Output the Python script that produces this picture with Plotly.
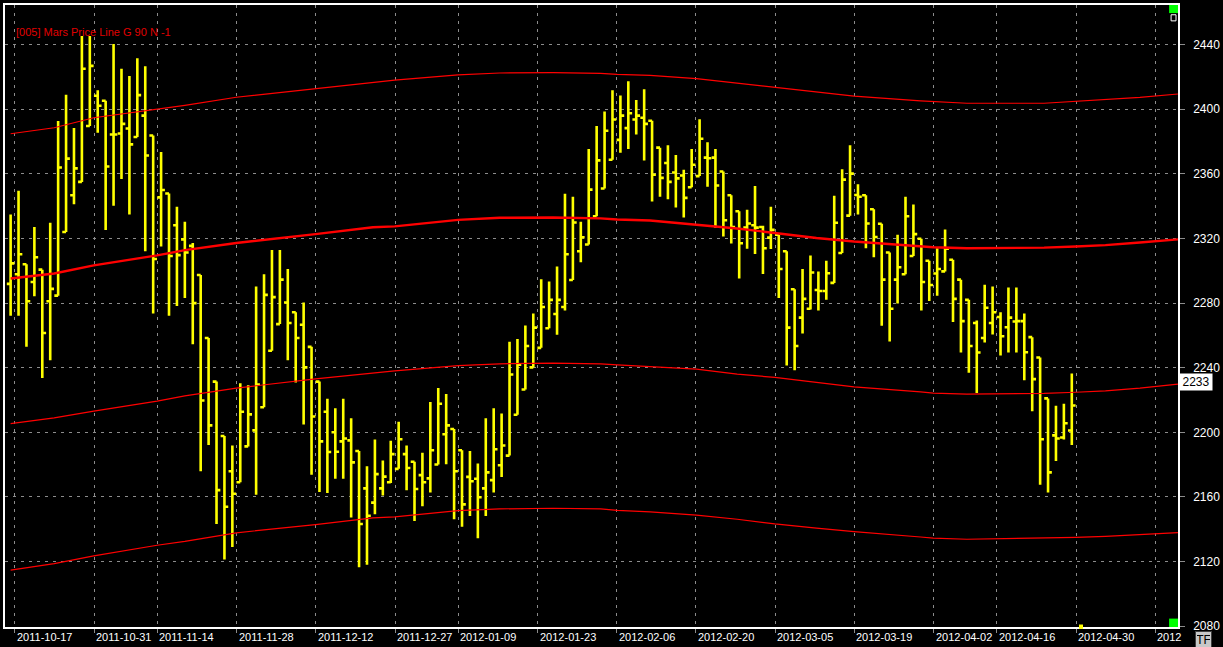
import plotly.graph_objects as go

# daily bars (index 0 = first bar on the left)
opens = [2291.9, 2297.8, 2304.0, 2293.0, 2300.7, 2281.1, 2284.6, 2324.0, 2346.7, 2355.0,
         2389.6, 2408.3, 2405.2, 2384.3, 2385.0, 2388.1, 2382.8, 2396.0, 2383.7, 2345.4,
         2347.8, 2328.2, 2319.4, 2315.4, 2297.4, 2258.4, 2231.4, 2197.7, 2175.9, 2169.1,
         2191.3, 2201.2, 2215.5, 2250.5, 2267.0, 2280.4, 2274.3, 2266.6, 2252.9, 2231.4,
         2212.7, 2200.0, 2194.4, 2195.0, 2188.4, 2165.3, 2156.5, 2165.3, 2169.1, 2177.4,
         2186.5, 2181.8, 2173.5, 2171.5, 2180.1, 2198.8, 2202.1, 2188.9, 2172.4, 2171.3,
         2165.3, 2170.4, 2179.6, 2185.6, 2210.9, 2226.5, 2240.2, 2252.3, 2264.4, 2273.2,
         2277.6, 2294.3, 2312.1, 2316.3, 2333.7, 2350.9, 2368.7, 2381.0, 2388.3, 2393.6,
         2394.7, 2392.9, 2376.2, 2366.7, 2360.8, 2359.0, 2351.7, 2358.6, 2370.0, 2370.0,
         2361.4, 2346.7, 2336.8, 2326.7, 2328.2, 2327.1, 2320.5, 2322.3, 2312.1, 2288.6,
         2271.0, 2276.5, 2288.1, 2287.5, 2292.5, 2311.0, 2334.1, 2346.9, 2346.7, 2338.1,
         2329.1, 2311.3, 2294.5, 2297.8, 2309.1, 2319.8, 2306.2, 2298.3, 2299.6, 2306.8,
         2294.5, 2282.0, 2267.7, 2258.4, 2267.7, 2271.4, 2265.0, 2268.6, 2268.8, 2258.9,
         2246.3, 2221.0, 2198.1, 2196.8, 2201.1]
highs = [2334.8, 2349.5, 2304.0, 2327.1, 2300.7, 2329.7, 2392.7, 2409.0, 2388.3, 2445.3,
         2445.3, 2411.8, 2405.2, 2440.4, 2425.0, 2420.6, 2431.6, 2426.6, 2383.7, 2373.5,
         2347.8, 2339.6, 2330.4, 2317.2, 2297.4, 2258.4, 2231.4, 2197.7, 2191.8, 2230.3,
         2229.2, 2290.3, 2297.8, 2312.8, 2312.8, 2301.1, 2274.3, 2280.4, 2252.9, 2231.4,
         2220.8, 2214.9, 2220.8, 2208.7, 2188.4, 2179.0, 2195.5, 2182.5, 2194.8, 2206.5,
         2191.8, 2181.8, 2187.3, 2218.8, 2227.4, 2223.7, 2202.1, 2188.9, 2188.4, 2180.7,
         2208.7, 2214.9, 2211.6, 2256.0, 2257.8, 2266.1, 2273.6, 2294.7, 2293.4, 2302.7,
         2347.6, 2345.8, 2330.4, 2375.3, 2389.6, 2398.6, 2411.8, 2408.5, 2417.3, 2405.7,
         2412.3, 2392.9, 2376.2, 2377.7, 2371.6, 2362.5, 2375.3, 2393.8, 2379.5, 2375.3,
         2361.4, 2346.7, 2336.8, 2337.7, 2352.4, 2327.8, 2339.6, 2322.3, 2312.1, 2288.6,
         2301.1, 2309.5, 2299.6, 2306.2, 2346.5, 2362.8, 2377.7, 2353.5, 2346.7, 2338.1,
         2329.1, 2311.3, 2322.3, 2345.8, 2341.0, 2319.8, 2306.2, 2313.9, 2325.6, 2306.8,
         2294.5, 2282.0, 2269.2, 2291.4, 2290.3, 2274.3, 2289.7, 2289.7, 2273.6, 2258.9,
         2246.3, 2221.0, 2216.4, 2217.7, 2236.4]
lows = [2272.1, 2272.1, 2252.9, 2284.2, 2233.6, 2244.6, 2284.6, 2324.0, 2341.2, 2355.0,
        2389.6, 2385.4, 2325.3, 2340.3, 2356.8, 2334.8, 2382.8, 2312.1, 2273.6, 2315.0,
        2272.1, 2278.2, 2283.1, 2254.5, 2175.9, 2192.2, 2143.3, 2121.3, 2129.0, 2169.1,
        2191.3, 2161.4, 2215.5, 2250.5, 2267.0, 2244.6, 2230.9, 2204.9, 2173.7, 2163.1,
        2162.5, 2171.3, 2171.3, 2147.3, 2116.5, 2118.0, 2149.3, 2160.9, 2168.6, 2177.4,
        2164.2, 2145.1, 2154.3, 2162.7, 2180.1, 2180.3, 2146.2, 2141.6, 2148.2, 2134.5,
        2148.2, 2162.7, 2172.4, 2185.6, 2210.9, 2226.5, 2240.2, 2252.3, 2264.4, 2260.4,
        2275.4, 2294.3, 2305.3, 2316.3, 2333.7, 2350.9, 2368.7, 2373.1, 2375.3, 2384.3,
        2368.3, 2342.9, 2345.8, 2344.3, 2339.2, 2333.0, 2351.7, 2358.6, 2352.0, 2326.7,
        2321.2, 2316.8, 2295.2, 2313.7, 2310.4, 2298.0, 2313.5, 2283.1, 2241.3, 2238.4,
        2261.1, 2276.0, 2275.4, 2282.0, 2292.5, 2311.0, 2334.1, 2334.8, 2313.9, 2308.4,
        2265.9, 2256.2, 2279.8, 2297.8, 2309.1, 2275.4, 2281.3, 2284.6, 2299.6, 2268.3,
        2249.4, 2236.9, 2224.3, 2255.6, 2260.6, 2247.6, 2249.4, 2249.4, 2232.2, 2213.1,
        2167.5, 2162.7, 2182.3, 2195.5, 2192.2]
closes = [2304.6, 2310.2, 2281.1, 2308.4, 2261.5, 2288.8, 2363.9, 2369.4, 2363.4, 2425.0,
          2426.8, 2402.1, 2364.5, 2384.3, 2390.9, 2378.2, 2408.7, 2371.3, 2307.3, 2350.0,
          2309.1, 2309.7, 2311.3, 2280.0, 2219.7, 2204.3, 2164.2, 2153.9, 2162.0, 2212.7,
          2211.1, 2229.6, 2285.1, 2283.7, 2294.5, 2267.7, 2258.4, 2240.2, 2209.8, 2194.4,
          2187.8, 2188.0, 2196.2, 2181.4, 2143.3, 2148.4, 2174.1, 2172.6, 2186.5, 2195.7,
          2177.9, 2164.9, 2169.1, 2188.9, 2217.7, 2204.3, 2175.9, 2155.4, 2169.7, 2159.8,
          2175.2, 2189.5, 2191.8, 2235.8, 2241.9, 2253.4, 2264.8, 2277.6, 2282.0, 2282.0,
          2310.2, 2329.9, 2320.7, 2350.2, 2368.3, 2386.7, 2393.6, 2396.0, 2397.5, 2396.0,
          2390.9, 2359.4, 2357.5, 2355.0, 2357.2, 2345.1, 2365.6, 2381.7, 2369.6, 2352.8,
          2331.3, 2327.1, 2317.0, 2329.3, 2326.7, 2313.9, 2325.3, 2301.1, 2264.8, 2253.4,
          2282.6, 2298.9, 2287.5, 2298.5, 2329.7, 2356.4, 2360.1, 2345.8, 2329.3, 2320.9,
          2294.5, 2276.5, 2302.2, 2333.7, 2322.7, 2293.0, 2291.2, 2301.1, 2313.7, 2282.6,
          2268.8, 2253.4, 2249.4, 2277.1, 2274.3, 2259.5, 2271.0, 2268.8, 2249.6, 2232.9,
          2195.7, 2175.2, 2196.2, 2205.6, 2216.6]

# date labels and the bar each one belongs to
dateLabels = ['2011-10-17', '2011-10-31', '2011-11-14', '2011-11-28', '2011-12-12',
              '2011-12-27', '2012-01-09', '2012-01-23', '2012-02-06', '2012-02-20',
              '2012-03-05', '2012-03-19', '2012-04-02', '2012-04-16', '2012-04-30', '2012']
dateBars = [1, 11, 19, 29, 39, 49, 57, 67, 77, 87, 97, 107, 117, 125, 135, 145]

# Mars price lines (bar position, value)
lineX = [0, 5.5, 10.5, 18.5, 22, 28.5, 38.5, 45.75, 48.5, 56.5, 61.75, 68.5, 74.5, 76.6,
         80.75, 86.6, 91.75, 96.5, 101.75, 106.5, 114.9, 116.5, 120.75, 130.5, 134.5,
         138.25, 142.6, 147.4]
lineUpper = [2384.8, 2388.5, 2394.7, 2400.2, 2402.4, 2407.4, 2412.7, 2416.5, 2418.0, 2421.3,
             2422.4, 2422.6, 2422.2, 2421.5, 2420.9, 2418.9, 2416.0, 2413.6, 2410.7, 2408.1,
             2405.2, 2404.8, 2403.7, 2403.7, 2404.8, 2405.7, 2407.3, 2409.4]
lineMid = [2295.2, 2298.3, 2303.3, 2309.5, 2312.8, 2317.2, 2322.7, 2326.9, 2327.5, 2331.5,
           2332.8, 2333.0, 2332.4, 2331.7, 2331.1, 2328.6, 2326.2, 2323.4, 2320.3, 2318.1,
           2315.2, 2314.6, 2313.9, 2314.3, 2315.0, 2315.9, 2317.5, 2319.4]
lineLower = [2205.4, 2208.9, 2213.1, 2219.3, 2222.6, 2227.4, 2233.1, 2236.9, 2238.0, 2241.3,
             2242.4, 2242.8, 2242.4, 2241.7, 2240.8, 2239.1, 2236.0, 2234.0, 2230.9, 2228.1,
             2225.0, 2224.3, 2223.7, 2224.1, 2224.8, 2225.6, 2227.3, 2229.8]
lineBottom = [2114.7, 2118.7, 2123.5, 2130.1, 2132.5, 2137.8, 2142.9, 2147.1, 2147.7, 2151.5,
              2152.6, 2153.0, 2152.6, 2151.7, 2150.8, 2148.8, 2146.2, 2143.3, 2140.7, 2138.5,
              2135.2, 2134.5, 2133.8, 2134.5, 2135.0, 2135.6, 2136.8, 2137.9]

lastMarker = 2233
yTicks = list(range(2080, 2441, 40))

FONT = 'Liberation Sans, Arial, sans-serif'
GRID = '#8c8c8c'

bars = list(range(len(opens)))
gridPos = [b - 0.46 for b in dateBars]

fig = go.Figure()

for vals, w in [(lineUpper, 1.2), (lineMid, 2.4), (lineLower, 1.2), (lineBottom, 1.2)]:
    fig.add_trace(go.Scatter(x=lineX, y=vals, mode='lines',
                             line=dict(color='#ff0000', width=w),
                             hoverinfo='skip', showlegend=False))

fig.add_trace(go.Ohlc(x=bars, open=opens, high=highs, low=lows, close=closes,
                      increasing_line_color='#ffff00', decreasing_line_color='#ffff00',
                      line_width=2.6, tickwidth=0.48, showlegend=False))

annotations = []
for pos, lab in zip(gridPos, dateLabels):
    annotations.append(dict(x=pos, y=0, xref='x', yref='paper', text=lab,
                            xanchor='left', yanchor='top', yshift=-2, showarrow=False,
                            font=dict(family=FONT, size=11, color='#ffffff')))

annotations.append(dict(x=0.0075, y=0.957, xref='paper', yref='paper',
                        text='[005] Mars Price Line G 90 N -1', xanchor='left',
                        yanchor='middle', showarrow=False,
                        font=dict(family=FONT, size=11, color='#e00000')))
annotations.append(dict(x=1, y=lastMarker, xref='paper', yref='y', text=str(lastMarker),
                        xanchor='left', yanchor='middle', xshift=1, yshift=-3,
                        showarrow=False, bgcolor='#ffffff', width=30, height=14,
                        align='center', font=dict(family=FONT, size=12, color='#000000')))
annotations.append(dict(x=1.0215, y=-0.0195, xref='paper', yref='paper', text='TF',
                        xanchor='center', yanchor='middle', showarrow=False,
                        bgcolor='#c8c8c8', bordercolor='#404040', borderwidth=1,
                        width=13, height=13, align='center',
                        font=dict(family=FONT, size=12, color='#000000')))

shapes = [
    # green status squares on the right edge
    dict(type='rect', xref='paper', yref='paper', x0=0.9924, x1=1.0, y0=0.987, y1=1.0,
         fillcolor='#00ff00', line_width=0),
    dict(type='rect', xref='paper', yref='paper', x0=0.9941, x1=0.9983, y0=0.9745, y1=0.9843,
         fillcolor='#000000', line=dict(color='#ffffff', width=1)),
    dict(type='rect', xref='paper', yref='paper', x0=0.9924, x1=1.0, y0=0.0, y1=0.0135,
         fillcolor='#00ff00', line_width=0),
    dict(type='rect', xref='paper', yref='paper', x0=0.9156, x1=0.9190, y0=-0.003, y1=0.004,
         fillcolor='#ffff00', line_width=0),
]

fig.update_layout(
    width=1223, height=647,
    margin=dict(l=3, r=35, t=3, b=20),
    paper_bgcolor='#000000', plot_bgcolor='#000000',
    font=dict(family=FONT, size=11, color='#ffffff'),
    showlegend=False,
    annotations=annotations,
    shapes=shapes,
    xaxis=dict(range=[-0.71, 147.41], tickvals=gridPos, showticklabels=False,
               ticks='outside', ticklen=4, tickcolor=GRID,
               showgrid=True, gridcolor=GRID, griddash='3px,5px', gridwidth=1,
               showline=True, linecolor='#ffffff', linewidth=1.5, mirror=True,
               zeroline=False, rangeslider=dict(visible=False), fixedrange=True),
    yaxis=dict(range=[2079.5, 2464.5], side='right', tickvals=yTicks,
               ticks='outside', ticklen=5, tickcolor=GRID, ticklabelstandoff=6,
               tickfont=dict(family=FONT, size=12, color='#ffffff'),
               showgrid=True, gridcolor=GRID, griddash='3px,5px', gridwidth=1,
               showline=True, linecolor='#ffffff', linewidth=1.5, mirror=True,
               zeroline=False, fixedrange=True),
)

# drop the page's default body margin so the figure sits at the window's corner
fig.write_html("out.html", config={'displayModeBar': False},
               post_script="document.body.style.margin='0';document.body.style.background='#000';")
